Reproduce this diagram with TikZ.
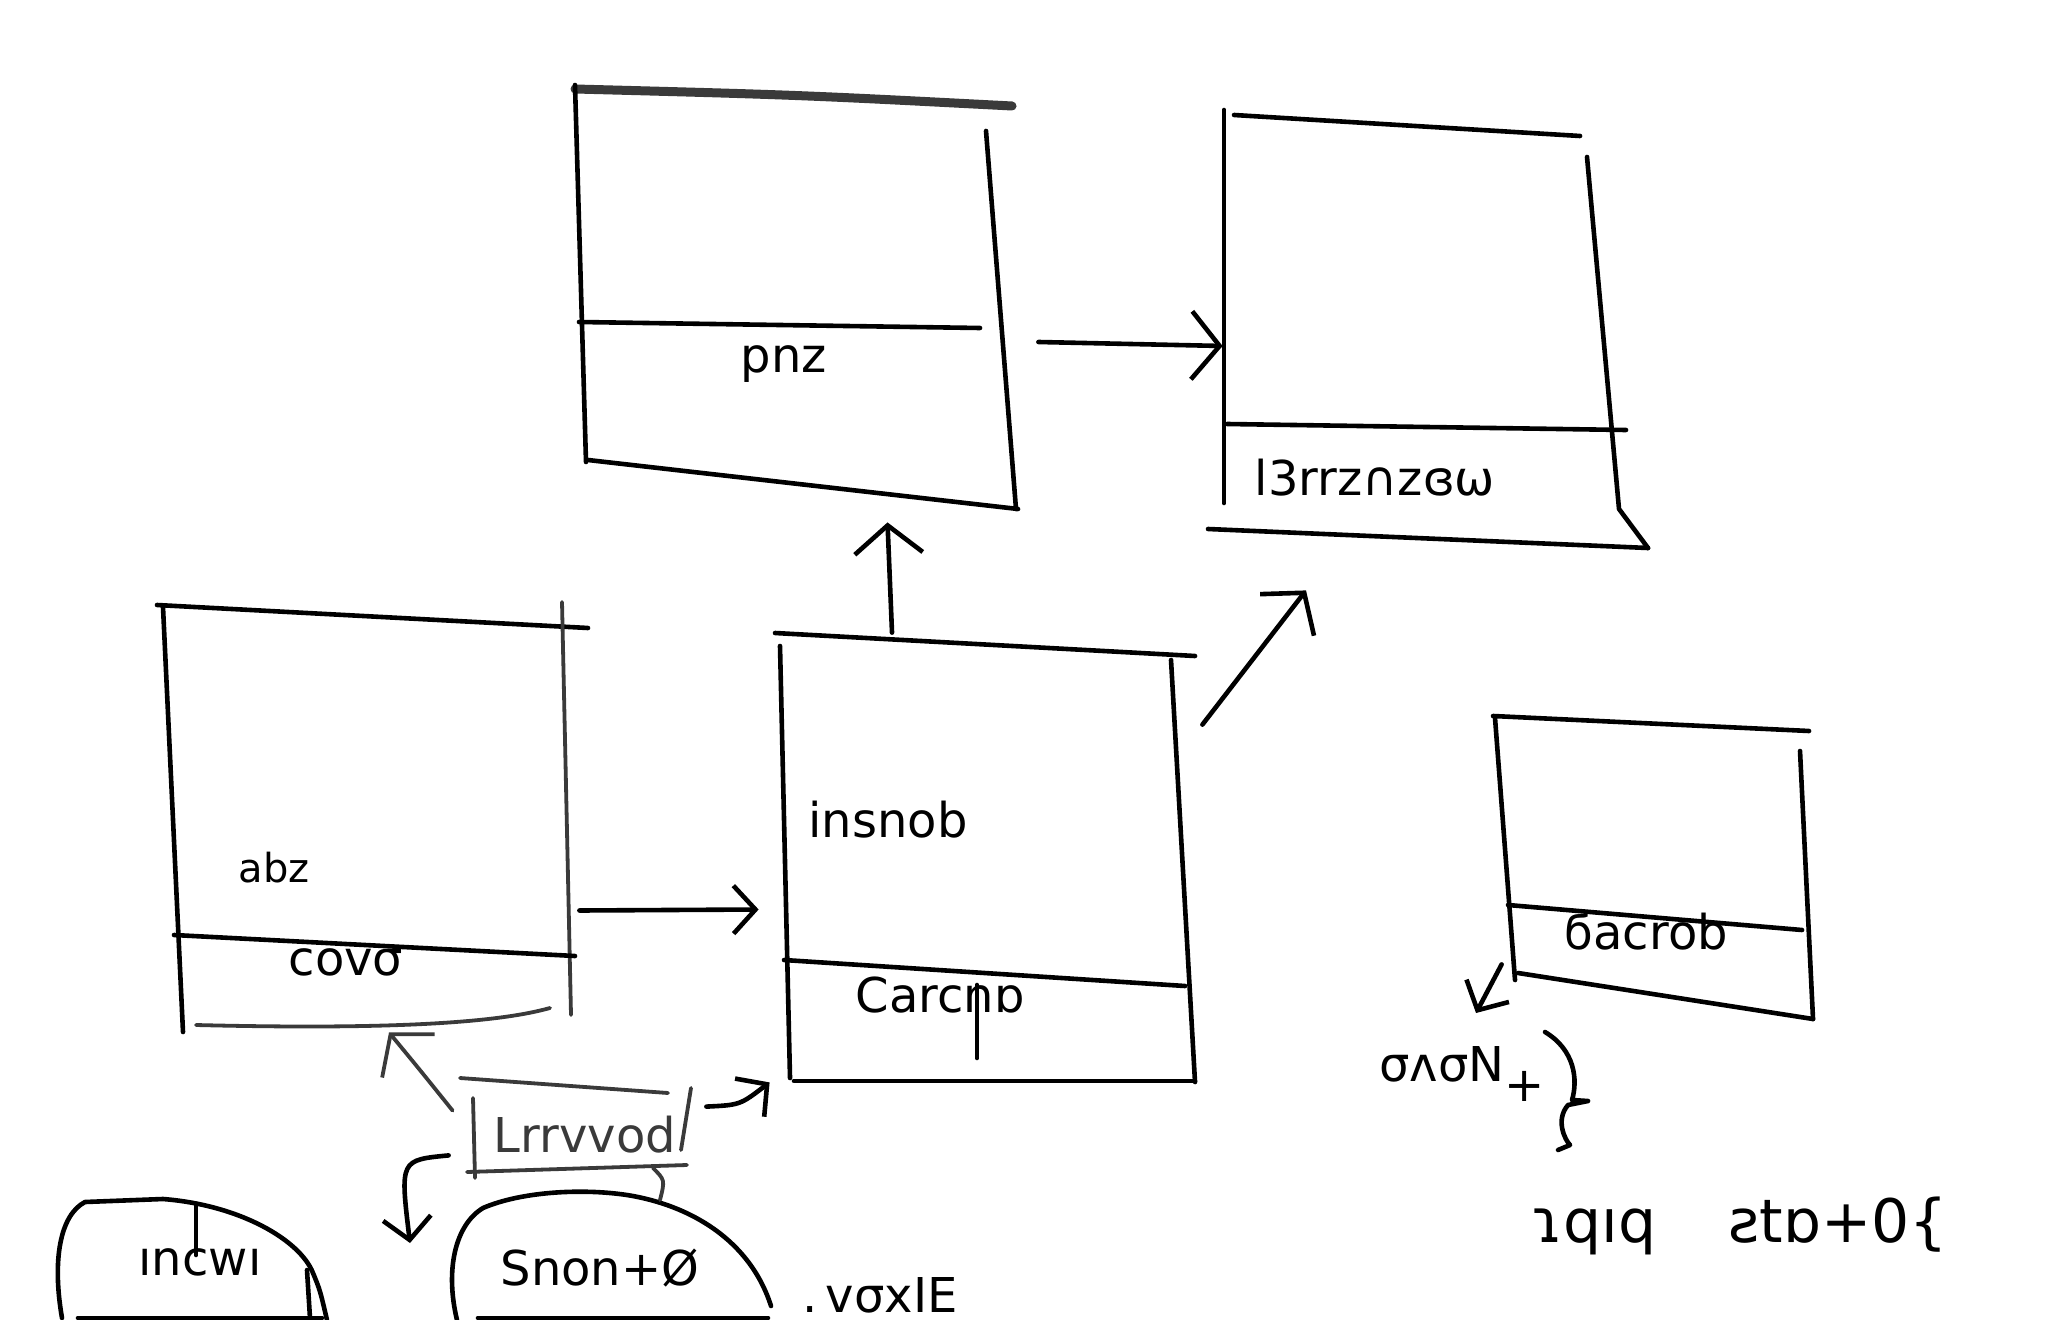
\documentclass[tikz,border=0pt]{standalone}
\usepackage{fontspec}
\setmainfont{DejaVu Sans}
\usetikzlibrary{arrows.meta,fit,calc}
\definecolor{ink}{HTML}{000000}
\definecolor{pencil}{HTML}{3A3A3A}
\tikzset{
  stroke/.style={draw=ink,line width=2.3pt,line cap=round,line join=round},
  grey/.style={draw=pencil,line width=1.9pt,line cap=round,line join=round},
  chev/.style={-{Straight Barb[length=14pt,width=34pt]}},
  chevs/.style={-{Straight Barb[length=11pt,width=24pt]}},
  area/.style={inner sep=0pt,draw=none},
  hand/.style={font=\fontsize{24}{28}\selectfont,text=ink,inner sep=0pt},
  handlg/.style={font=\fontsize{30}{34}\selectfont,text=ink,inner sep=0pt},
  handsm/.style={font=\fontsize{20}{24}\selectfont,text=ink,inner sep=0pt}
}
\begin{document}
\begin{tikzpicture}[x=0.5pt,y=-0.5pt]
\useasboundingbox (0,0) rectangle (2048,1320);
\fill[white] (0,0) rectangle (2048,1320);

% ---------- areas (invisible nodes) ----------
\node[area,fit={(575,85)(1016,509)}] (b1) {};
\node[area,fit={(1208,110)(1648,548)}] (b2) {};
\node[area,fit={(157,605)(571,1032)}] (b3) {};
\node[area,fit={(775,633)(1195,1082)}] (b4) {};
\node[area,fit={(1493,716)(1813,1019)}] (b5) {};
\node[area,fit={(461,1081)(686,1170)}] (lb) {};
\node[area,fit={(59,1199)(327,1318)}] (e1) {};
\node[area,fit={(450,1188)(771,1318)}] (e2) {};

% ---------- box 1 ----------
\draw[draw=pencil,line width=4.5pt,line cap=round] (575,89) .. controls (800,95) .. (1012,106);
\draw[stroke] (575,85) -- (586,462);
\draw[stroke] (588,460) -- (1018,509);
\draw[stroke] (986,131) -- (1016,509);
\draw[stroke] (579,322) -- (980,328);
\node[hand] (t1) at (784,364) {pnz};

% ---------- box 2 ----------
\draw[stroke] (1224,110) -- (1224,503);
\draw[stroke] (1234,115) -- (1580,136);
\draw[stroke] (1587,157) -- (1619,509) -- (1648,548);
\draw[stroke] (1208,529) -- (1648,548);
\draw[stroke] (1227,424) -- (1626,430);
\node[hand] (t2) at (1375,478) {l3rrz∩zɞω};

% ---------- box 3 ----------
\draw[stroke] (157,605) -- (588,628);
\draw[stroke] (163,607) -- (183,1032);
\draw[grey] (562,602) -- (571,1015);
\draw[stroke] (174,935) -- (575,956);
\draw[grey] (196,1025) .. controls (400,1030) and (500,1022) .. (550,1008);
\node[handsm] (t3a) at (274,868) {abz};
\node[hand] (t3b) at (346,962) {covσ};

% ---------- box 4 ----------
\draw[stroke] (775,633) -- (1195,656);
\draw[stroke] (780,646) -- (790,1078);
\draw[stroke] (1171,660) -- (1195,1082);
\draw[stroke] (784,960) -- (1185,986);
\draw[stroke] (794,1081) -- (1195,1081);
\node[hand] (t4a) at (888,820) {insnob};
\node[hand] (t4b) at (940,995) {Carcnɒ};
\draw[stroke] (977,985) -- (977,1058);

% ---------- box 5 ----------
\draw[stroke] (1493,716) -- (1809,731);
\draw[stroke] (1495,718) -- (1515,980);
\draw[stroke] (1800,751) -- (1813,1019);
\draw[stroke] (1508,905) -- (1802,930);
\draw[stroke] (1518,973) -- (1813,1019);
\node[hand] (t5) at (1646,932) {ϭacrob};

% ---------- label box ----------
\draw[grey] (460,1078) -- (668,1093);
\draw[grey] (473,1098) -- (475,1178);
\draw[grey] (691,1088) -- (681,1150);
\draw[grey] (467,1172) -- (687,1165);
\node[hand,text=pencil] (tl) at (585,1135) {Lrrvvod};

% ---------- ellipses ----------
\draw[stroke] (62,1318) .. controls (52,1260) and (60,1215) .. (85,1202) -- (163,1199)
  .. controls (240,1205) and (300,1240) .. (313,1273) .. controls (320,1290) .. (327,1320);
\draw[stroke] (78,1318) -- (322,1318);
\node[hand] (te1) at (200,1262) {ıncwı};
\draw[stroke] (196,1205) -- (196,1255);
\draw[stroke] (307,1270) -- (310,1318);

\draw[stroke] (457,1320) .. controls (445,1270) and (455,1225) .. (483,1208)
  .. controls (520,1192) and (580,1188) .. (627,1195)
  .. controls (690,1205) and (750,1240) .. (771,1306);
\draw[stroke] (478,1318) -- (768,1318);
\node[hand] (te2) at (600,1268) {Snon+Ø};
\node[hand] (tx) at (880,1295) {.\,vσxIE};

% ---------- right texts ----------
\node[hand] (tn) at (1462,1074) {σʌσN\raisebox{-0.4em}{+}};
\draw[stroke] (1545,1032) .. controls (1575,1050) and (1578,1080) .. (1572,1100)
  -- (1588,1101) -- (1568,1105) .. controls (1555,1120) and (1565,1140) .. (1570,1145) -- (1558,1150);
\node[handlg] (tb) at (1740,1226) {ɿqıq\hspace{1.2em}ƨtɒ+0\{};

% ---------- connectors ----------
\draw[stroke,chevs] ($(b3.east)+(8,92)$) -- ($(b4.west)+(-16,52)$);
\draw[stroke,chev] ($(b4.north)+(-93,0)$) -- ($(b1.south)+(92,13)$);
\draw[stroke,chev] ($(b4.north east)+(7,92)$) -- ($(b2.south)+(-122,42)$);
\draw[stroke,chev] ($(b1.east)+(22,45)$) -- ($(b2.west)+(15,17)$);
\draw[grey,chev] ($(lb.north west)+(-8,30)$) .. controls (420,1070) .. ($(b3.south)+(25,0)$);
\draw[stroke,chevs] ($(lb.north east)+(20,26)$) .. controls (740,1105) .. ($(b4.south west)+(-5,0)$);
\coordinate (dl) at (410,1243);
\draw[stroke,chevs] ($(lb.south west)+(-12,-15)$) .. controls (400,1160) .. (dl);
\draw[grey] (653,1168) .. controls (665,1180) .. (660,1200);
\coordinate (b5end) at (1476,1013);
\draw[stroke,chevs] ($(b5.south west)+(9,-55)$) -- (b5end);
\end{tikzpicture}
\end{document}
